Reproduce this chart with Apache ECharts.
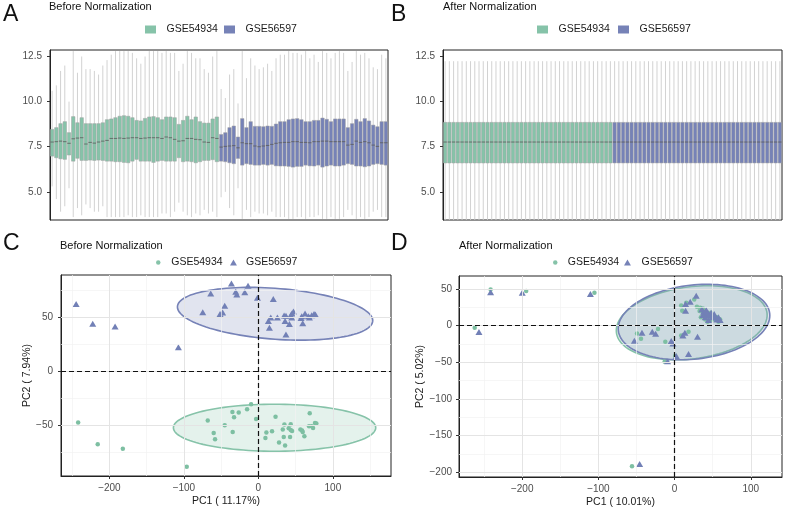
<!DOCTYPE html>
<html>
<head>
<meta charset="utf-8" />
<title>Before / After Normalization</title>
<script type="text/javascript" src="https://cdn.jsdelivr.net/npm/echarts@6/dist/echarts.min.js"></script>
</head>
<body style="margin:0;background-color:white;">
<div id="main" style="width:786px;height:510px;background-color:white;"></div>
<script type="text/javascript">
var groups = ['GSE54934', 'GSE56597'];
var groupColors = ['#86c3a9', '#7682b7'];
var pointColors = ['#7dbfa2', '#7280b6'];

// A: box stats per sample before normalization
var before54934Min = [5.3, 4.6, 3.9, 4.2, 5.2, 3.6, 4.1, 3.7, 4.3, 4.1, 3.9, 3.9, 4.2, 3.6, 3.6, 3.6, 3.6, 3.6, 3.7, 3.6,
                      3.6, 3.7, 3.6, 3.6, 3.6, 3.6, 3.8, 3.8, 3.6, 3.9, 4.4, 3.9, 3.7, 3.6, 3.8, 3.7, 4.0, 3.8, 3.9, 3.6];
var before54934Q1 = [6.98, 6.89, 6.83, 6.80, 7.04, 6.70, 6.86, 6.74, 6.74, 6.76, 6.74, 6.76, 6.74, 6.70, 6.70, 6.67, 6.67, 6.63, 6.61, 6.70,
                     6.80, 6.70, 6.70, 6.70, 6.63, 6.70, 6.74, 6.70, 6.70, 6.70, 6.89, 6.67, 6.70, 6.67, 6.61, 6.67, 6.74, 6.74, 6.78, 6.67];
var before54934Median = [7.76, 7.78, 7.81, 7.78, 7.69, 7.94, 7.98, 8.00, 7.65, 7.74, 7.70, 7.76, 7.81, 7.85, 7.96, 7.96, 7.98, 7.96, 7.98, 8.00,
                         8.00, 7.96, 7.98, 8.00, 8.00, 8.00, 7.96, 8.04, 8.00, 7.91, 7.81, 7.83, 7.96, 7.96, 7.91, 7.89, 7.76, 7.74, 8.00, 7.96];
var before54934Q3 = [8.46, 8.56, 8.78, 8.89, 8.28, 9.17, 8.83, 9.11, 8.78, 8.78, 8.78, 8.78, 8.83, 9.00, 9.04, 9.11, 9.19, 9.22, 9.19, 9.11,
                     8.96, 8.93, 9.07, 9.15, 9.17, 9.11, 9.00, 9.15, 9.15, 9.11, 8.74, 8.96, 9.19, 9.00, 9.15, 8.89, 8.81, 8.81, 9.04, 9.15];
var before54934Max = [10.6, 10.9, 11.7, 12.0, 10.0, 12.8, 11.6, 12.5, 11.8, 11.8, 11.7, 11.5, 12.0, 12.3, 12.6, 12.8, 12.8, 12.8, 12.8, 12.7,
                      12.4, 12.1, 12.5, 12.8, 12.8, 12.8, 12.7, 12.8, 12.7, 12.7, 11.7, 12.1, 12.8, 12.7, 12.4, 12.4, 11.8, 11.6, 12.5, 12.8];

var before56597Min = [4.7, 5.0, 4.1, 3.7, 5.2, 3.5, 4.0, 3.6, 3.9, 3.8, 3.8, 3.7, 3.9, 3.6, 3.6, 3.6, 3.5, 3.5, 3.6, 3.6,
                      3.5, 3.6, 3.6, 3.7, 3.5, 3.5, 3.6, 3.5, 3.5, 3.6, 4.0, 3.7, 3.5, 3.6, 3.5, 3.6, 3.9, 4.0, 3.6, 3.6];
var before56597Q1 = [6.70, 6.67, 6.61, 6.56, 6.85, 6.48, 6.56, 6.52, 6.48, 6.48, 6.52, 6.48, 6.52, 6.44, 6.43, 6.43, 6.41, 6.37, 6.41, 6.41,
                     6.48, 6.44, 6.43, 6.48, 6.37, 6.43, 6.48, 6.43, 6.43, 6.48, 6.56, 6.52, 6.43, 6.43, 6.39, 6.43, 6.52, 6.56, 6.52, 6.48];
var before56597Median = [7.48, 7.52, 7.54, 7.56, 7.44, 7.72, 7.67, 7.67, 7.54, 7.50, 7.54, 7.57, 7.63, 7.69, 7.72, 7.74, 7.74, 7.78, 7.78, 7.74,
                         7.74, 7.72, 7.78, 7.78, 7.81, 7.81, 7.78, 7.78, 7.78, 7.78, 7.59, 7.63, 7.81, 7.74, 7.78, 7.72, 7.59, 7.52, 7.72, 7.72];
var before56597Q3 = [8.18, 8.28, 8.56, 8.65, 8.04, 9.06, 8.56, 8.89, 8.63, 8.63, 8.61, 8.65, 8.63, 8.76, 8.89, 8.89, 9.00, 9.04, 9.06, 9.00,
                     8.89, 8.89, 8.96, 8.96, 9.09, 9.02, 8.89, 9.04, 9.04, 9.04, 8.56, 8.78, 9.02, 8.89, 9.06, 8.93, 8.70, 8.61, 8.89, 8.89];
var before56597Max = [10.7, 10.2, 11.5, 11.8, 9.9, 12.8, 11.3, 12.4, 12.0, 11.8, 11.9, 12.1, 11.7, 12.4, 12.6, 12.6, 12.8, 12.7, 12.7, 12.6,
                      12.8, 12.4, 12.6, 12.2, 12.8, 12.7, 12.4, 12.7, 12.8, 12.7, 11.7, 12.2, 12.8, 12.6, 12.7, 12.4, 11.9, 11.8, 12.6, 12.4];

// B: after quantile normalization every sample has the same box [min, q1, median, q3, max]
var after54934Box = [3.45, 6.6, 7.76, 8.85, 12.24];
var after56597Box = [3.45, 6.6, 7.76, 8.85, 12.24];
var samplesPerGroup = 40;

var boxTicks = [5, 7.5, 10, 12.5];

// C: PCA before normalization [PC1, PC2]
var before54934Pca = [[-242, -47.7], [-215.7, -67.8], [-182, -71.9], [-96.2, -88.6], [-68, -45.8], [-60, -57.3], [-58.2, -63.2],
  [-45.2, -50.2], [-34.9, -37.8], [-32.7, -42.8], [-34.5, -56.4], [-26.4, -38.4], [-15.2, -35.3], [-9.8, -30.7], [-3.1, -44.3],
  [9.4, -62], [10.7, -57], [18.3, -55.8], [23, -42.4], [27.7, -66.3], [32.7, -54.2], [34, -61], [34.9, -49.6], [35.8, -69.1],
  [40.7, -53], [42.5, -61], [43.4, -49.3], [43.4, -54.5], [45.2, -55.5], [56.4, -54.2], [58.6, -55.1], [59.5, -56.4],
  [61.7, -60.4], [68.9, -39], [68, -51.1], [71.6, -51.1], [73.4, -52.7], [76, -48], [77.8, -48.6]];
var before56597Pca = [[-244.7, 62.3], [-222.4, 44], [-192.4, 41.5], [-107.4, 22.3], [-74.7, 54.8], [-64, 72.2], [-51.5, 53],
  [-48, 54.5], [-45.2, 60.7], [-36.2, 81.5], [-30.4, 73.7], [-29, 71.3], [-18.3, 73.4], [-13.9, 79.3], [-1.3, 68.2], [20, 67],
  [13.4, 46.5], [16.6, 49.9], [14.8, 40.3], [25.5, 49.9], [34.5, 51.7], [37, 51.4], [35.8, 46.5], [37, 34], [41.6, 43.7],
  [43.4, 52], [44.7, 49.9], [47, 55.5], [45, 53.6], [57.3, 49.3], [58.2, 51], [59.5, 44.6], [62.6, 53.6], [67, 51],
  [68.5, 49.9], [71.6, 52], [74.7, 53], [76.5, 52.7]];

// D: PCA after normalization
var after54934Pca = [[-241.5, 49.5], [-194.8, 47.3], [-105.2, 45.0], [-262.4, -2.7], [-55.9, -191.8],
  [-49.3, -10.5], [-44.1, -17.7], [-21.8, -4.5], [-12.2, -21.8], [-13.1, -49.1],
  [0.9, -41.4], [8.7, -13.2], [18.3, -8.2], [8.7, 27.7], [10.0, 20.5],
  [15.3, 31.4], [25.8, 35.9], [29.3, 25.9], [32.8, 20.0], [33.6, 24.5],
  [34.5, 11.4], [37.1, 17.7], [37.1, 23.6], [38.0, 13.2], [40.2, 20.0],
  [40.2, 8.6], [42.4, 11.4], [43.2, 5.5], [44.5, 15.9], [45.9, 12.3],
  [47.6, 17.7], [48.9, 7.7], [50.2, 10.0], [52.0, 13.2], [53.7, 8.6],
  [55.5, 11.4], [57.6, 5.5], [59.8, 8.6]];
var after56597Pca = [[-241.5, 45.5], [-200.0, 45.0], [-110.5, 43.2], [-256.8, -8.6], [-45.9, -188.6],
  [-52.8, -20.5], [-42.8, -9.5], [-29.3, -8.2], [-24.9, -10.9], [-4.4, -20.9],
  [-2.2, -24.1], [-9.2, -48.6], [2.2, -41.4], [18.3, -38.6], [30.1, -15.0],
  [13.5, -9.5], [10.9, -13.2], [14.4, 20.5], [14.4, 29.5], [20.5, 32.7],
  [28.4, 40.9], [35.8, 22.3], [37.1, 14.5], [38.0, 19.1], [40.2, 15.5],
  [40.2, 11.4], [41.5, 21.4], [43.7, 17.7], [44.5, 7.7], [45.9, 14.5],
  [48.0, 17.7], [48.9, 11.4], [50.2, 13.2], [52.0, 15.9], [53.3, 11.4],
  [55.5, 8.6], [57.6, 11.4], [59.8, 7.7]];

// confidence ellipses [centerPC1, centerPC2, halfWidth, halfHeight, phase(deg)]
var before54934Ellipse = [21.7, -52.5, 135.8, 21.8, 90];
var before56597Ellipse = [22.4, 53.3, 131.1, 24.5, 105];
var after54934Ellipse = [22.5, 4.0, 99.0, 50.5, 78];
var after56597Ellipse = [25.5, 5.0, 99.5, 51.5, 80];

// tick / grid values
var pc1Ticks = [-200, -100, 0, 100];
var beforePc1Minor = [-250, -150, -50, 50, 150];
var beforePc2Ticks = [-50, 0, 50];
var beforePc2Minor = [-75, -25, 25, 75];
var afterPc1Minor = [-250, -150, -50, 50];
var afterPc2Ticks = [-200, -150, -100, -50, 0, 50];
var afterPc2Minor = [-175, -125, -75, -25, 25];

var FONT = '"Liberation Sans", Arial, sans-serif';
var labelColor = '#4d4d4d';

var samples = [];
for (var i = 0; i < samplesPerGroup * 2; i++) samples.push('S' + (i + 1));

function minusFmt(v) {
    return v < 0 ? '\u2212' + Math.abs(v) : String(v);
}

function boxRows(mins, q1s, meds, q3s, maxs, offset) {
    var rows = [];
    for (var i = 0; i < mins.length; i++) {
        rows.push([offset + i, mins[i], q1s[i], meds[i], q3s[i], maxs[i]]);
    }
    return rows;
}

function sameBoxRows(box, n, offset) {
    var rows = [];
    for (var i = 0; i < n; i++) rows.push([offset + i].concat(box));
    return rows;
}

function renderBox(params, api) {
    var x = api.value(0);
    var lo = api.coord([x, api.value(1)]);
    var q1 = api.coord([x, api.value(2)]);
    var md = api.coord([x, api.value(3)]);
    var q3 = api.coord([x, api.value(4)]);
    var hi = api.coord([x, api.value(5)]);
    var w = api.size([1, 0])[0] * 0.82;
    return {
        type: 'group',
        children: [
            { type: 'line', shape: { x1: lo[0], y1: lo[1], x2: hi[0], y2: hi[1] }, style: { stroke: '#d2d2d2', lineWidth: 1 } },
            { type: 'rect', shape: { x: q3[0] - w / 2, y: q3[1], width: w, height: q1[1] - q3[1] },
              style: { fill: api.visual('color'), stroke: '#a3a3a3', lineWidth: 0.5 } },
            { type: 'line', shape: { x1: md[0] - w / 2, y1: md[1], x2: md[0] + w / 2, y2: md[1] }, style: { stroke: '#5a5a5a', lineWidth: 0.8 } }
        ]
    };
}

function renderEllipse(params, api) {
    var cx = api.value(0), cy = api.value(1), rx = api.value(2), ry = api.value(3);
    var ph = api.value(4) * Math.PI / 180;
    var pts = [];
    for (var k = 0; k < 120; k++) {
        var t = 2 * Math.PI * k / 120;
        pts.push(api.coord([cx + rx * Math.cos(t), cy + ry * Math.cos(t - ph)]));
    }
    var c = api.visual('color');
    return {
        type: 'polygon',
        shape: { points: pts },
        style: { fill: echarts.color.modifyAlpha(c, 0.22), stroke: c, lineWidth: 1.6 }
    };
}

function boxSeries(name, rows, color, idx) {
    return { type: 'custom', name: name, xAxisIndex: idx, yAxisIndex: idx, z: 2,
             itemStyle: { color: color }, renderItem: renderBox,
             encode: { x: 0, y: [1, 2, 3, 4, 5] }, data: rows };
}

function ellipseSeries(name, params, color, idx) {
    return { type: 'custom', name: name, xAxisIndex: idx, yAxisIndex: idx, z: 2, silent: true,
             itemStyle: { color: color }, renderItem: renderEllipse,
             encode: { x: 0, y: 1 }, data: [params] };
}

function pointSeries(name, data, color, symbol, size, idx) {
    return { type: 'scatter', name: name, xAxisIndex: idx, yAxisIndex: idx, z: 4,
             symbol: symbol, symbolSize: size, itemStyle: { color: color, opacity: 1 }, data: data };
}

// background grid lines for the PCA panels (theme_bw look)
function gridLineSeries(idx, xMajor, xMinor, yMajor, yMinor) {
    var lines = [];
    xMinor.forEach(function (v) { lines.push({ xAxis: v, lineStyle: { type: 'solid', color: '#f2f2f2', width: 0.7 } }); });
    yMinor.forEach(function (v) { lines.push({ yAxis: v, lineStyle: { type: 'solid', color: '#f2f2f2', width: 0.7 } }); });
    xMajor.forEach(function (v) { lines.push({ xAxis: v, lineStyle: { type: 'solid', color: '#e4e4e4', width: 1 } }); });
    yMajor.forEach(function (v) { lines.push({ yAxis: v, lineStyle: { type: 'solid', color: '#e4e4e4', width: 1 } }); });
    return { type: 'scatter', name: 'grid' + idx, xAxisIndex: idx, yAxisIndex: idx, z: 1, silent: true, data: [],
             markLine: { silent: true, symbol: ['none', 'none'], label: { show: false }, data: lines } };
}

function zeroLineSeries(idx) {
    return { type: 'scatter', name: 'zero' + idx, xAxisIndex: idx, yAxisIndex: idx, z: 3, silent: true, data: [],
             markLine: { silent: true, symbol: ['none', 'none'], label: { show: false },
                         lineStyle: { type: [5, 3], color: '#111', width: 1.2 },
                         data: [{ xAxis: 0 }, { yAxis: 0 }] } };
}

function boxYAxis(idx) {
    return { type: 'value', gridIndex: idx, min: 3.44, max: 12.86, splitLine: { show: false },
             axisLine: { show: true, onZero: false, lineStyle: { color: '#222' } },
             axisTick: { show: true, length: 3, lineStyle: { color: '#333' }, customValues: boxTicks },
             axisLabel: { customValues: boxTicks, margin: 8, color: labelColor, fontSize: 10, fontFamily: FONT,
                          formatter: function (v) { return v.toFixed(1); } } };
}

function boxXAxis(idx) {
    return { type: 'category', gridIndex: idx, data: samples, boundaryGap: true,
             axisLine: { show: false }, axisTick: { show: false }, axisLabel: { show: false }, splitLine: { show: false } };
}

function pcaAxis(idx, dim, min, max, ticks, name, gap, margin) {
    return { type: 'value', gridIndex: idx, min: min, max: max, splitLine: { show: false },
             axisLine: { show: true, onZero: false, lineStyle: { color: '#222' } },
             axisTick: { show: true, length: 3, lineStyle: { color: '#333' }, customValues: ticks },
             axisLabel: { customValues: ticks, margin: margin, color: labelColor, fontSize: 10, fontFamily: FONT, formatter: minusFmt },
             name: name, nameLocation: 'middle', nameGap: gap,
             nameTextStyle: { color: '#1a1a1a', fontSize: 10.5, fontFamily: FONT } };
}

function titleText(text, left, top, size) {
    return { text: text, left: left, top: top, padding: 0,
             textStyle: { fontSize: size, fontWeight: 'normal', color: '#111', fontFamily: FONT } };
}

function legendItem(name, icon, left, top, w, h) {
    return { left: left, top: top, padding: 0, itemWidth: w, itemHeight: h, selectedMode: false,
             data: [{ name: name, icon: icon }],
             textStyle: { fontSize: 10.5, color: '#1a1a1a', fontFamily: FONT } };
}

var boxIcon = 'path://M0,0H11V8H0Z';
var triIcon = 'path://M0,10L5.77,0L11.55,10Z';

var myChart = echarts.init(document.getElementById('main'));
myChart.setOption({
    animation: false,
    backgroundColor: '#fff',
    textStyle: { fontFamily: FONT },
    title: [
        titleText('A', 3, 3, 23), titleText('Before Normalization', 49, 1, 11),
        titleText('B', 391, 3, 23), titleText('After Normalization', 443, 1, 11),
        titleText('C', 3, 232, 23), titleText('Before Normalization', 60, 240, 11),
        titleText('D', 391, 232, 23), titleText('After Normalization', 459, 240, 11)
    ],
    legend: [
        legendItem(groups[0], boxIcon, 145, 24, 22, 8), legendItem(groups[1], boxIcon, 224, 24, 22, 8),
        legendItem(groups[0], boxIcon, 537, 24, 22, 8), legendItem(groups[1], boxIcon, 618, 24, 22, 8),
        legendItem(groups[0], 'circle', 156, 257, 16, 4.5), legendItem(groups[1], triIcon, 230, 257, 15, 6),
        legendItem(groups[0], 'circle', 553, 257, 15, 4.5), legendItem(groups[1], triIcon, 624, 257, 18, 6)
    ],
    grid: [
        { left: 50, top: 50, width: 338, height: 170, show: true, borderColor: '#222', borderWidth: 1, outerBoundsMode: 'none' },
        { left: 443, top: 50, width: 339, height: 170, show: true, borderColor: '#222', borderWidth: 1, outerBoundsMode: 'none' },
        { left: 61, top: 275, width: 330, height: 201, show: true, borderColor: '#222', borderWidth: 1, outerBoundsMode: 'none' },
        { left: 459, top: 276, width: 323, height: 201, show: true, borderColor: '#222', borderWidth: 1, outerBoundsMode: 'none' }
    ],
    xAxis: [
        boxXAxis(0), boxXAxis(1),
        pcaAxis(2, 'x', -265, 178, pc1Ticks, 'PC1 ( 11.17%)', 20, 7),
        pcaAxis(3, 'x', -283, 141, pc1Ticks, 'PC1 ( 10.01%)', 20, 7)
    ],
    yAxis: [
        boxYAxis(0), boxYAxis(1),
        pcaAxis(2, 'y', -97.3, 89.3, beforePc2Ticks, 'PC2 ( 7.94%)', 28, 8),
        pcaAxis(3, 'y', -206.3, 67.8, afterPc2Ticks, 'PC2 ( 5.02%)', 33, 7)
    ],
    series: [
        boxSeries(groups[0], boxRows(before54934Min, before54934Q1, before54934Median, before54934Q3, before54934Max, 0), groupColors[0], 0),
        boxSeries(groups[1], boxRows(before56597Min, before56597Q1, before56597Median, before56597Q3, before56597Max, samplesPerGroup), groupColors[1], 0),
        boxSeries(groups[0], sameBoxRows(after54934Box, samplesPerGroup, 0), groupColors[0], 1),
        boxSeries(groups[1], sameBoxRows(after56597Box, samplesPerGroup, samplesPerGroup), groupColors[1], 1),

        gridLineSeries(2, pc1Ticks, beforePc1Minor, beforePc2Ticks, beforePc2Minor),
        ellipseSeries(groups[0], before54934Ellipse, groupColors[0], 2),
        ellipseSeries(groups[1], before56597Ellipse, groupColors[1], 2),
        zeroLineSeries(2),
        pointSeries(groups[0], before54934Pca, pointColors[0], 'circle', 4.5, 2),
        pointSeries(groups[1], before56597Pca, pointColors[1], 'triangle', [7, 6], 2),

        gridLineSeries(3, pc1Ticks, afterPc1Minor, afterPc2Ticks, afterPc2Minor),
        ellipseSeries(groups[0], after54934Ellipse, groupColors[0], 3),
        ellipseSeries(groups[1], after56597Ellipse, groupColors[1], 3),
        zeroLineSeries(3),
        pointSeries(groups[0], after54934Pca, pointColors[0], 'circle', 4.5, 3),
        pointSeries(groups[1], after56597Pca, pointColors[1], 'triangle', [7, 6], 3)
    ]
});
</script>
</body>
</html>
